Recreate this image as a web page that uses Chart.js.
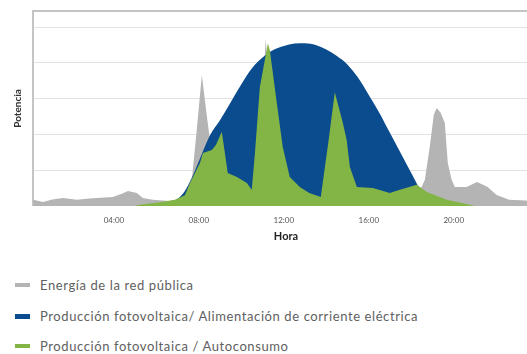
<!DOCTYPE html>
<html lang="es">
<head>
<meta charset="utf-8">
<title>Potencia a lo largo del día</title>
<script src="https://cdn.jsdelivr.net/npm/chart.js@4.4.1/dist/chart.umd.min.js"></script>
<style>
  html, body { margin: 0; padding: 0; background: #fff; overflow: hidden; width: 527px; height: 354px; }
  #plot { position: absolute; left: 0; top: 0; }
  #legend { position: absolute; left: 0; top: 0; font-family: Lato, "Noto Sans", sans-serif; font-size: 13px; letter-spacing: 0.6px; color: #606060; }
  .item { position: absolute; left: 0; white-space: nowrap; height: 16px; line-height: 16px; }
  .sw { position: absolute; left: 15px; top: 6px; width: 15px; height: 4px; }
  .txt { position: absolute; left: 40px; top: 0; }
</style>
</head>
<body>
<canvas id="plot" width="545" height="243"></canvas>
<div id="legend"></div>
<script>
// Hours of the day (0-24) and power readings for each series
const gridHours = [0.2, 0.66, 1.1, 1.6, 2.26, 2.7, 3.2, 3.95, 4.4, 4.66, 5.08, 5.36, 5.83, 6.6, 7.3, 7.67, 7.9, 8.14, 8.38, 8.6, 9.0, 10.0, 10.9, 11.02, 11.15, 11.3, 11.5, 13.0, 15.0, 17.0, 18.0, 18.49, 18.64, 18.87, 19.06, 19.2, 19.39, 19.58, 19.72, 19.9, 20.05, 20.6, 21.1, 21.6, 22.0, 22.6, 23.4, 24.0];
const gridPower = [0.17, 0.11, 0.18, 0.22, 0.17, 0.2, 0.22, 0.25, 0.35, 0.42, 0.36, 0.22, 0.17, 0.14, 0.2, 0.73, 2.12, 3.66, 2.49, 1.5, 0.3, 0.3, 0.3, 3.4, 4.66, 3.4, 0.3, 0.3, 0.3, 0.3, 0.3, 0.53, 0.73, 1.65, 2.55, 2.74, 2.6, 2.32, 1.2, 0.73, 0.53, 0.53, 0.67, 0.53, 0.31, 0.17, 0.15, 0.12];

const pvHours = [5.0, 5.5, 6.0, 6.5, 7.0, 7.3, 7.6, 8.0, 8.5, 9.0, 9.5, 10.0, 10.5, 11.0, 11.5, 12.0, 12.5, 13.0, 13.5, 14.0, 14.5, 15.0, 15.5, 16.0, 16.5, 17.0, 17.5, 18.0, 18.3, 18.5, 19.0, 19.5, 20.0];
const pvPower = [0, 0.02, 0.05, 0.1, 0.2, 0.38, 0.7, 1.25, 1.95, 2.4, 2.9, 3.4, 3.85, 4.15, 4.36, 4.47, 4.54, 4.55, 4.5, 4.37, 4.19, 3.95, 3.58, 3.1, 2.6, 2.04, 1.48, 0.92, 0.58, 0.36, 0.12, 0.03, 0];

const selfHours = [5.0, 5.22, 6.16, 6.87, 7.34, 7.58, 8.05, 8.19, 8.61, 8.8, 9.08, 9.36, 9.79, 10.26, 10.49, 10.64, 10.87, 11.25, 11.34, 11.67, 11.95, 12.28, 12.75, 13.2, 13.74, 14.1, 14.4, 14.78, 14.96, 15.11, 15.44, 16.19, 16.99, 17.46, 18.26, 18.73, 19.67, 20.38, 21.0];
const selfPower = [0, 0.03, 0.1, 0.17, 0.3, 0.64, 1.2, 1.48, 1.56, 1.7, 2.07, 0.92, 0.81, 0.64, 0.45, 1.48, 3.32, 4.55, 4.36, 2.88, 1.65, 0.81, 0.53, 0.36, 0.25, 1.8, 3.18, 2.32, 1.84, 1.09, 0.53, 0.5, 0.36, 0.45, 0.59, 0.39, 0.17, 0.08, 0];

const hourTicks = [4, 8, 12, 16, 20];
const gridLevels = [1, 2, 3, 4, 5];

const seriesLabels = [
  'Energía de la red pública',
  'Producción fotovoltaica/ Alimentación de corriente eléctrica',
  'Producción fotovoltaica / Autoconsumo'
];

const COLORS = ['#b4b4b4', '#0b4c8e', '#82b446'];
const Y_TOP = 5.45;

Chart.defaults.font.family = 'Lato, "Noto Sans", sans-serif';

const toPoints = (hours, values) => hours.map((h, i) => ({ x: h, y: values[i] }));

function area(idx, hours, values, extra) {
  return Object.assign({
    label: seriesLabels[idx],
    data: toPoints(hours, values),
    backgroundColor: COLORS[idx],
    borderColor: COLORS[idx],
    borderWidth: 0,
    pointRadius: 0,
    fill: 'origin',
    tension: 0
  }, extra);
}

new Chart(document.getElementById('plot'), {
  type: 'line',
  data: {
    datasets: [
      area(0, gridHours, gridPower, { order: 3 }),
      area(1, pvHours, pvPower, { order: 2, cubicInterpolationMode: 'monotone' }),
      area(2, selfHours, selfPower, { order: 1 })
    ]
  },
  options: {
    responsive: false,
    animation: false,
    events: [],
    layout: { padding: { top: 11, right: 6.3, left: 0, bottom: 0 } },
    plugins: { legend: { display: false }, tooltip: { enabled: false } },
    scales: {
      x: {
        type: 'linear',
        min: 0.2,
        max: 24,
        afterBuildTicks: s => { s.ticks = hourTicks.map(v => ({ value: v })); },
        ticks: {
          callback: v => String(v).padStart(2, '0') + ':00',
          color: '#555',
          font: { size: 8 },
          padding: 10.2,
          maxRotation: 0,
          autoSkip: false
        },
        grid: { display: false, drawTicks: false },
        border: { display: false },
        title: {
          display: true,
          text: 'Hora',
          color: '#222',
          font: { size: 11, weight: 'bold' },
          padding: { top: -6.1, bottom: 0 }
        }
      },
      y: {
        min: 0,
        max: Y_TOP,
        afterBuildTicks: s => { s.ticks = gridLevels.concat([Y_TOP]).map(v => ({ value: v })); },
        ticks: { display: false },
        grid: {
          drawTicks: false,
          color: c => (c.tick && c.tick.value >= Y_TOP) ? '#c4c4c4' : '#e2e2e2',
          lineWidth: c => (c.tick && c.tick.value >= Y_TOP) ? 2 : 1
        },
        border: { display: true, color: '#c4c4c4', width: 2 },
        title: {
          display: true,
          text: 'Potencia',
          color: '#333',
          font: { size: 10, weight: 'bold' },
          padding: { top: 12, bottom: 9.2 }
        }
      }
    }
  }
});

// Legend rows below the chart
const legend = document.getElementById('legend');
const rowTops = [277, 308, 338];
seriesLabels.forEach((text, i) => {
  const item = document.createElement('div');
  item.className = 'item';
  item.style.top = rowTops[i] + 'px';
  const sw = document.createElement('span');
  sw.className = 'sw';
  sw.style.background = COLORS[i];
  if (i === 1) { sw.style.height = '5px'; sw.style.top = '5.5px'; }
  const label = document.createElement('span');
  label.className = 'txt';
  label.textContent = text;
  item.appendChild(sw);
  item.appendChild(label);
  legend.appendChild(item);
});
</script>
</body>
</html>
